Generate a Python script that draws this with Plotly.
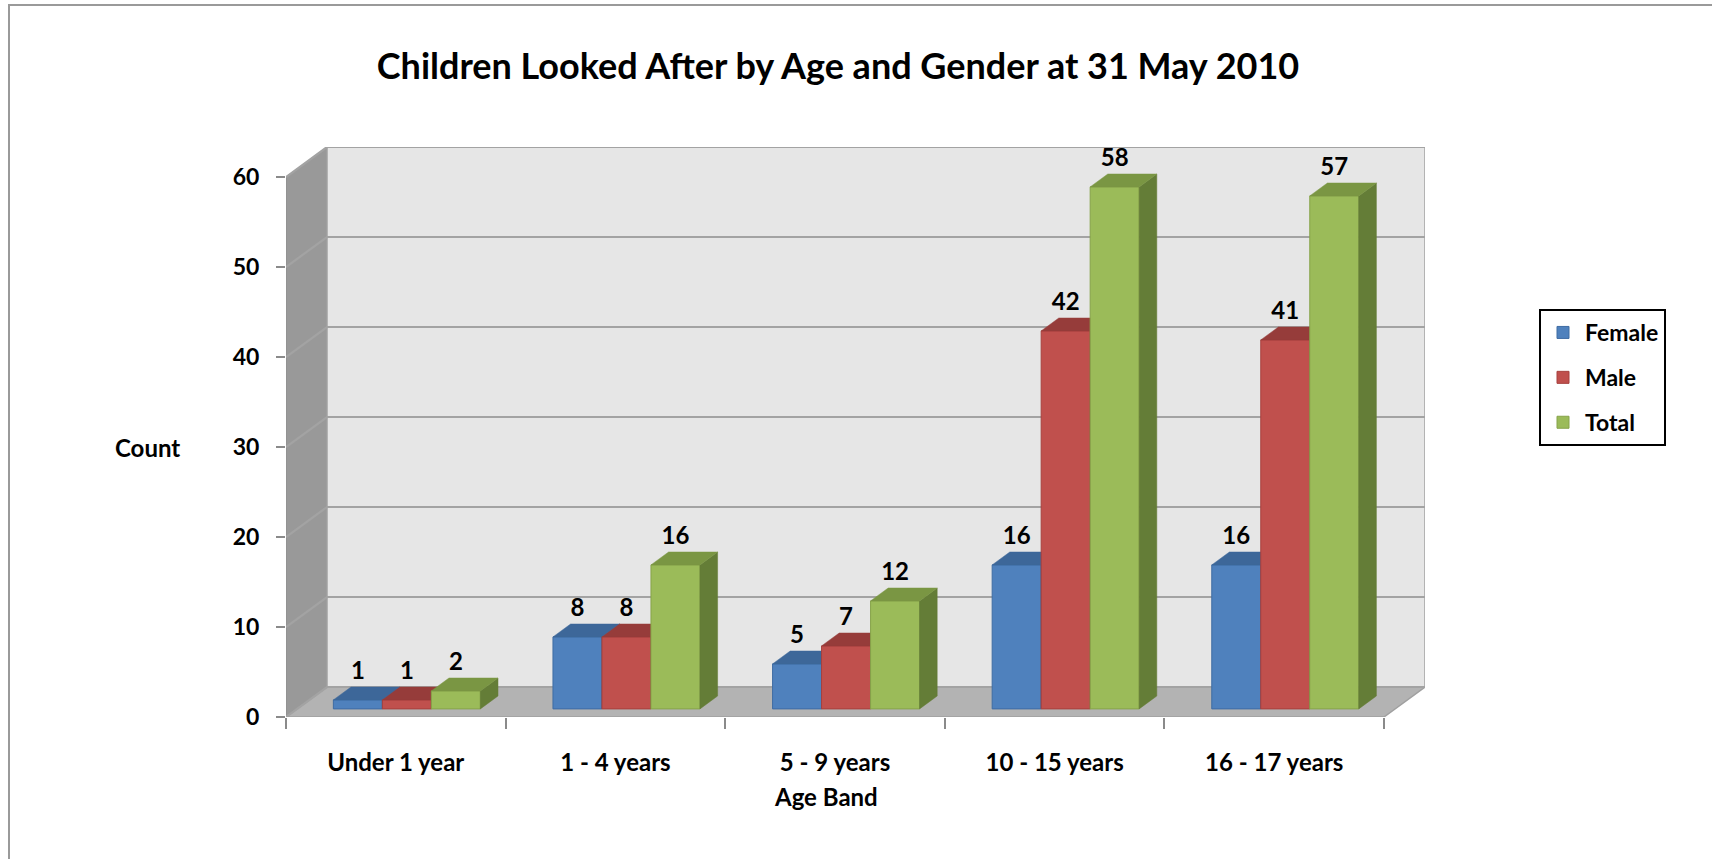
import plotly.graph_objects as go

# ---------------- data ----------------
categories = ["Under 1 year", "1 - 4 years", "5 - 9 years", "10 - 15 years", "16 - 17 years"]
female = [1, 8, 5, 16, 16]
male = [1, 8, 7, 42, 41]
total = [2, 16, 12, 58, 57]
series_names = ["Female", "Male", "Total"]
y_ticks = [0, 10, 20, 30, 40, 50, 60]

# ---------------- styling / geometry ----------------
W, H = 1712, 859
L, R, T, B = 286, 1425, 147, 717          # plot area in pixels (back-right / top of wall)
DEPTH_PX_X, DEPTH_PX_Y = 41, 30           # 3-D depth offset of the walls in pixels
n = len(categories)
YMAX = y_ticks[-1]
PX_X = (R - L - DEPTH_PX_X) / n
PX_Y = (B - T - DEPTH_PX_Y) / YMAX
DXW = DEPTH_PX_X / PX_X
DYW = DEPTH_PX_Y / PX_Y
BW = 49 / PX_X          # bar width in category units
FD = 0.27               # depth fraction of bar front face
BD = 0.43               # depth fraction of bar thickness

FONT = "Lato"
front_cols = ["#4F81BD", "#C0504D", "#9BBB59"]
edge_cols = ["#3F6CA3", "#A7413E", "#86A34A"]
top_cols = ["#3D6799", "#963C3A", "#7A9643"]
side_cols = ["#34598A", "#823230", "#647D37"]
WALL_BACK = "#E6E6E6"
WALL_SIDE = "#999999"
FLOOR = "#B3B3B3"
GRID = "#A3A3A3"

xr = [-0.5, n - 0.5 + DXW]
yr = [0, YMAX + DYW]


def px2paper_x(p):
    return (p - L) / (R - L)


def px2paper_y(p):
    return (B - p) / (B - T)


fig = go.Figure()

# ---------------- walls & floor (base subplot) ----------------
x_left, x_right = -0.5, n - 0.5
fig.add_trace(go.Scatter(
    x=[x_left, x_left + DXW, x_left + DXW, x_left, x_left],
    y=[0, DYW, YMAX + DYW, YMAX, 0],
    fill="toself", fillcolor=WALL_SIDE, mode="lines",
    line=dict(color="#8C8C8C", width=1), hoverinfo="skip", showlegend=False))
fig.add_trace(go.Scatter(
    x=[x_left + DXW, x_right + DXW, x_right + DXW, x_left + DXW, x_left + DXW],
    y=[DYW, DYW, YMAX + DYW, YMAX + DYW, DYW],
    fill="toself", fillcolor=WALL_BACK, mode="lines",
    line=dict(color=GRID, width=1.5), hoverinfo="skip", showlegend=False))
fig.add_trace(go.Scatter(
    x=[x_left, x_right, x_right + DXW, x_left + DXW, x_left],
    y=[0, 0, DYW, DYW, 0],
    fill="toself", fillcolor=FLOOR, mode="lines",
    line=dict(color="#A0A0A0", width=1.5), hoverinfo="skip", showlegend=False))

# gridlines on side and back wall
gx, gy = [], []
for t in y_ticks:
    gx += [x_left, x_left + DXW, x_right + DXW, None]
    gy += [t, t + DYW, t + DYW, None]
fig.add_trace(go.Scatter(x=gx, y=gy, mode="lines", line=dict(color=GRID, width=2.2),
                         hoverinfo="skip", showlegend=False))

# ---------------- bars (one overlaid subplot per series, left to right) ----------------
all_values = [female, male, total]
lab_x, lab_y, lab_t = [], [], []
for s, (name, vals) in enumerate(zip(series_names, all_values)):
    xa, ya = f"x{s + 2}", f"y{s + 2}"
    centers = [i + (s - 1) * BW + FD * DXW for i in range(n)]
    yb = FD * DYW
    ddx, ddy = BD * DXW, BD * DYW
    fig.add_trace(go.Bar(
        x=centers, y=vals, base=[yb] * n, width=BW, name=name,
        marker=dict(color=front_cols[s], line=dict(color=edge_cols[s], width=1)),
        xaxis=xa, yaxis=ya, legendgroup=name, showlegend=True,
        hovertemplate="%{text}: %{y}<extra>" + name + "</extra>", text=categories,
        textposition="none"))
    tx, ty, sx, sy = [], [], [], []
    for c, v in zip(centers, vals):
        x0, x1 = c - BW / 2, c + BW / 2
        yt = yb + v
        tx += [x0, x1, x1 + ddx, x0 + ddx, x0, None]
        ty += [yt, yt, yt + ddy, yt + ddy, yt, None]
        sx += [x1, x1 + ddx, x1 + ddx, x1, x1, None]
        sy += [yb, yb + ddy, yt + ddy, yt, yb, None]
        lab_x.append(c)
        lab_y.append(yt + 3.0)
        lab_t.append(str(v))
    fig.add_trace(go.Scatter(x=sx, y=sy, fill="toself", fillcolor=side_cols[s], mode="lines",
                             line=dict(color=side_cols[s], width=0.5), xaxis=xa, yaxis=ya,
                             hoverinfo="skip", showlegend=False))
    fig.add_trace(go.Scatter(x=tx, y=ty, fill="toself", fillcolor=top_cols[s], mode="lines",
                             line=dict(color=top_cols[s], width=0.5), xaxis=xa, yaxis=ya,
                             hoverinfo="skip", showlegend=False))

# data labels
fig.add_trace(go.Scatter(x=lab_x, y=lab_y, text=lab_t, mode="text", textposition="middle center",
                         textfont=dict(family=FONT, size=24, color="black", weight="bold"),
                         xaxis="x4", yaxis="y4", cliponaxis=False, hoverinfo="skip",
                         showlegend=False))

# ---------------- layout ----------------
tickfont = dict(family=FONT, size=23, color="black", weight="bold")
catfont = dict(family=FONT, size=24, color="black", weight="bold")
layout = dict(
    width=W, height=H,
    margin=dict(l=L, r=W - R, t=T, b=H - B, pad=0),
    paper_bgcolor="white", plot_bgcolor="rgba(0,0,0,0)",
    barmode="overlay",
    title=dict(text="Children Looked After by Age and Gender at 31 May 2010",
               x=838 / W, xanchor="center", xref="container",
               y=1 - 66 / H, yanchor="middle", yref="container",
               font=dict(family=FONT, size=36, color="black", weight="bold")),
    xaxis=dict(range=xr, tickvals=[i - 0.5 for i in range(n + 1)], ticks="outside",
               ticklen=11, tickwidth=1.5, tickcolor="#8A8A8A", showticklabels=False,
               showgrid=False, zeroline=False, showline=False, fixedrange=True),
    yaxis=dict(range=yr, tickvals=y_ticks, ticks="outside", ticklen=9, tickwidth=1.5,
               tickcolor="#8A8A8A", tickfont=tickfont, ticklabelstandoff=12,
               showgrid=False, zeroline=False, showline=False, fixedrange=True),
    legend=dict(x=px2paper_x(1539), y=px2paper_y(309), xanchor="left", yanchor="top",
                bordercolor="black", borderwidth=2, bgcolor="white",
                font=dict(family=FONT, size=23, color="black", weight="bold"),
                tracegroupgap=12, traceorder="grouped", itemwidth=34),
    showlegend=True,
    annotations=[
        dict(text="Count", x=px2paper_x(147), y=px2paper_y(447), xref="paper", yref="paper",
             showarrow=False, xanchor="center", yanchor="middle",
             font=dict(family=FONT, size=24, color="black", weight="bold")),
        dict(text="Age Band", x=px2paper_x(826), y=px2paper_y(796), xref="paper", yref="paper",
             showarrow=False, xanchor="center", yanchor="middle",
             font=dict(family=FONT, size=24, color="black", weight="bold")),
    ],
    shapes=[dict(type="rect", xref="paper", yref="paper",
                 x0=px2paper_x(9), x1=px2paper_x(W + 20), y0=px2paper_y(H + 20), y1=px2paper_y(5),
                 line=dict(color="#9A9A9A", width=2), fillcolor="rgba(0,0,0,0)", layer="below")],
)
for k in range(2, 5):
    xa = dict(range=xr, overlaying="x", matches="x", showgrid=False, zeroline=False,
              showline=False, fixedrange=True, visible=False)
    ya = dict(range=yr, overlaying="y", matches="y", showgrid=False, zeroline=False,
              showline=False, fixedrange=True, visible=False)
    if k == 2:
        xa.update(visible=True, tickvals=list(range(n)), ticktext=categories, ticks="",
                  tickfont=catfont, ticklabelstandoff=29, side="bottom")
    layout[f"xaxis{k}"] = xa
    layout[f"yaxis{k}"] = ya
fig.update_layout(**layout)

fig.write_html("out.html", config={"displayModeBar": False},
               post_script="document.body.style.margin='0';document.body.style.overflow='hidden';")
